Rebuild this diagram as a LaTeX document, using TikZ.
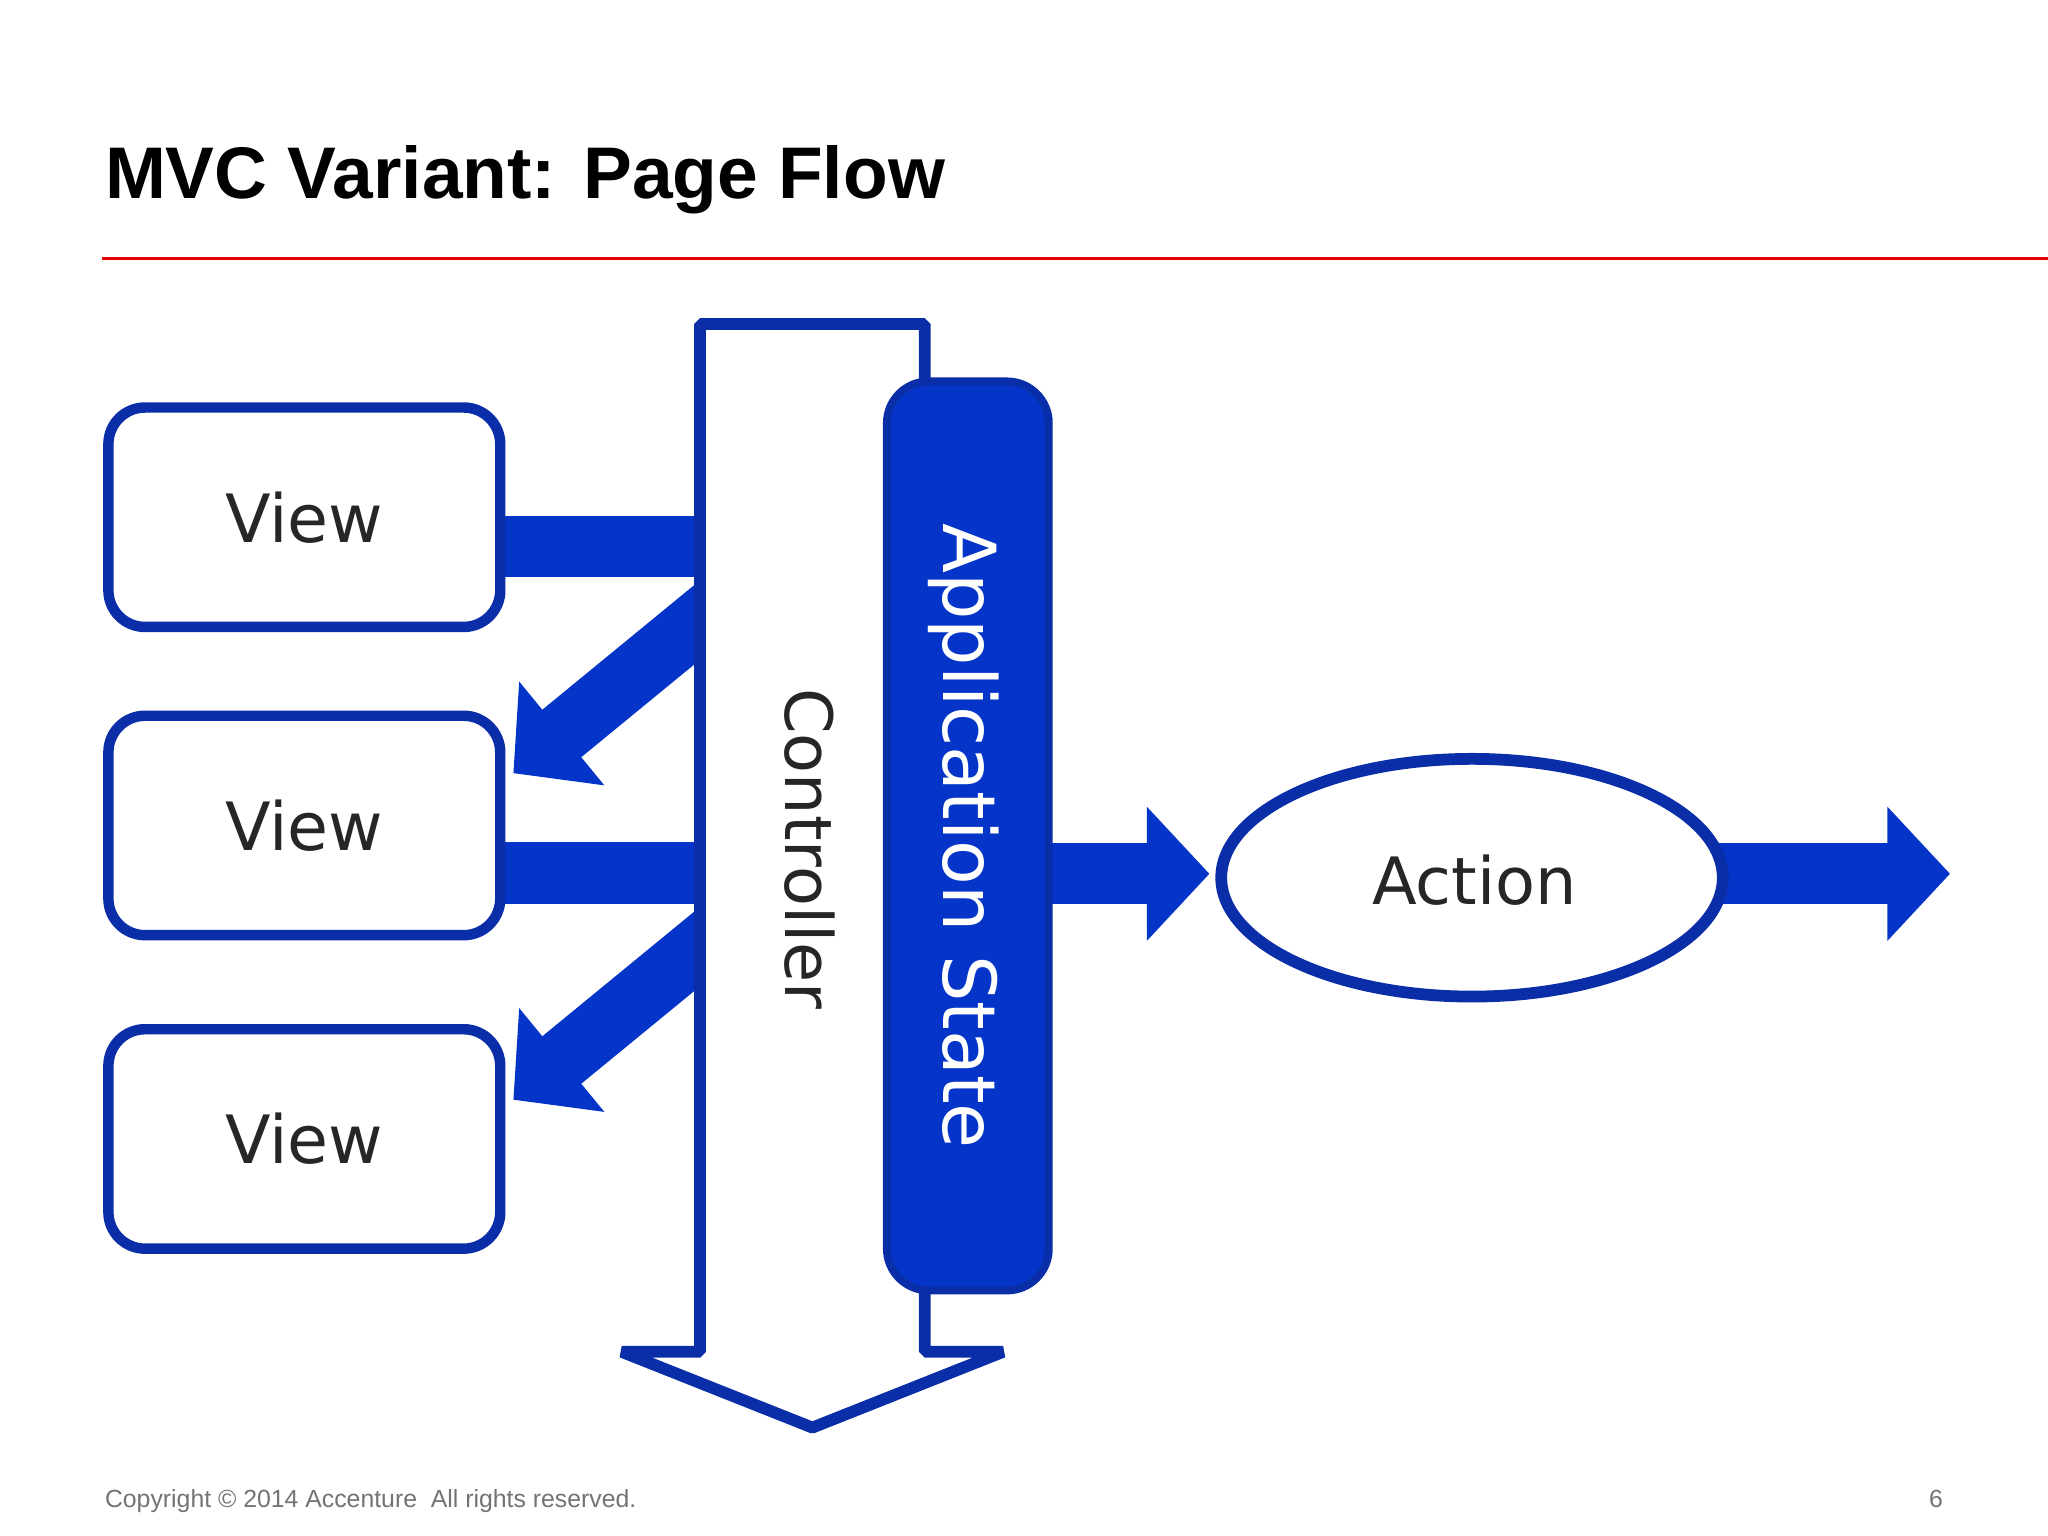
\documentclass[tikz,border=0pt]{standalone}
\usepackage{fontspec}
\setmainfont{DejaVu Sans}
\newfontfamily\arialf{Liberation Sans}
\usetikzlibrary{arrows.meta}
\definecolor{bl}{HTML}{0535C8}
\definecolor{bd}{HTML}{0A2DA8}
\begin{document}
\begin{tikzpicture}[x=0.5pt,y=-0.5pt,
  view/.style={draw=bd,line width=4pt,fill=white,rounded corners=14pt,minimum width=150pt,minimum height=84pt,font=\fontsize{25.5}{30}\selectfont,text=black!85},
  thk/.style={bl,line width=23.5pt,-{Triangle[length=24pt,width=50pt]}},
  lbl/.style={font=\fontsize{25}{30}\selectfont}]
\useasboundingbox (0,0) rectangle (1568,1176);
\node[anchor=base west,inner sep=0,font=\arialf\bfseries\fontsize{28}{34}\selectfont] (title) at (80,152) {MVC Variant: Page Flow};
\draw[red!90!black,line width=1.2pt] (78,198) -- (1568,198);
% connectors (drawn under shapes)
\fill[bl] (300,395) rectangle (560,442);
\fill[bl] (300,645) rectangle (560,692);
\coordinate (d1s) at (560,455); \coordinate (d1e) at (393,592);
\coordinate (d2s) at (560,705); \coordinate (d2e) at (393,842);
\draw[thk] (d1s) -- (d1e);
\draw[thk] (d2s) -- (d2e);
\coordinate (as) at (790,669); \coordinate (ae) at (926,669);
\coordinate (os) at (1290,669); \coordinate (oe) at (1493,669);
\draw[thk] (as) -- (ae);
\draw[thk] (os) -- (oe);
% views
\node[view] (view1) at (233,396) {View};
\node[view] (view2) at (233,632) {View};
\node[view] (view3) at (233,872) {View};
% controller
\draw[draw=bd,line width=4.5pt,fill=white,line join=bevel] (536,248) -- (708,248) -- (708,1035) -- (768,1035) -- (622,1093) -- (476,1035) -- (536,1035) -- cycle;
\node[lbl,rotate=-90,text=black!85] (ctrl) at (620,650) {Controller};
% app state
\node[draw=bd,line width=3pt,fill=bl,rounded corners=16pt,minimum width=62pt,minimum height=348pt] (app) at (741,640) {};
\node[rotate=-90,text=white,font=\fontsize{28}{32}\selectfont] (applbl) at (738,640) {Application State};
% action
\draw[draw=bd,line width=4.5pt,fill=white] (1127,672) ellipse [x radius=192,y radius=91];
\node[lbl,text=black!85] (action) at (1129,674) {Action};
% footer
\node[anchor=base west,inner sep=0,font=\arialf\fontsize{9.5}{12}\selectfont,text=black!55] (copy) at (80,1154) {Copyright © 2014 Accenture\ \ All rights reserved.};
\node[anchor=base east,inner sep=0,font=\arialf\fontsize{9.5}{12}\selectfont,text=black!55] (pg) at (1488,1154) {6};
\end{tikzpicture}
\end{document}
